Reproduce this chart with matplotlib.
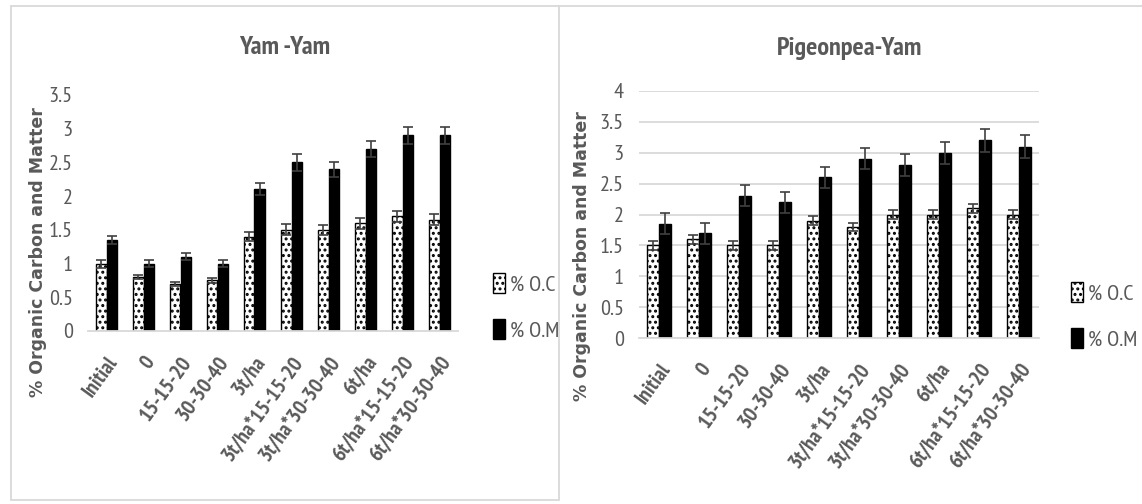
import numpy as np
import matplotlib
matplotlib.use('Agg')
import matplotlib.pyplot as plt
from matplotlib import font_manager
from matplotlib.lines import Line2D
from matplotlib.patches import Rectangle

_avail = {f.name for f in font_manager.fontManager.ttflist}
NARROW = 'DejaVu Sans'
for cand in ['PT Sans Narrow', 'Roboto Condensed', 'Fira Sans Condensed',
             'Archivo Narrow', 'Liberation Sans Narrow', 'Carlito']:
    if cand in _avail:
        NARROW = cand
        break

plt.rcParams['font.family'] = [NARROW, 'DejaVu Sans']
plt.rcParams['hatch.linewidth'] = 1.4

CATEGORIES = ['Initial', '0', '15-15-20', '30-30-40', '3t/ha', '3t/ha*15-15-20',
              '3t/ha*30-30-40', '6t/ha', '6t/ha*15-15-20', '6t/ha*30-30-40']

YY_OC = [1.0, 0.8, 0.7, 0.75, 1.4, 1.5, 1.5, 1.6, 1.7, 1.65]
YY_OC_ERR = [0.06, 0.03, 0.03, 0.04, 0.07, 0.08, 0.07, 0.08, 0.08, 0.08]
YY_OM = [1.35, 1.0, 1.1, 1.0, 2.1, 2.5, 2.4, 2.7, 2.9, 2.9]
YY_OM_ERR = [0.06, 0.05, 0.05, 0.05, 0.09, 0.12, 0.11, 0.12, 0.13, 0.13]

PY_OC = [1.5, 1.6, 1.5, 1.5, 1.9, 1.8, 2.0, 2.0, 2.1, 2.0]
PY_OC_ERR = [0.07, 0.07, 0.07, 0.07, 0.07, 0.07, 0.07, 0.07, 0.07, 0.07]
PY_OM = [1.85, 1.7, 2.3, 2.2, 2.6, 2.9, 2.8, 3.0, 3.2, 3.1]
PY_OM_ERR = [0.17, 0.17, 0.17, 0.17, 0.17, 0.17, 0.18, 0.18, 0.18, 0.18]

TEXT = '#595959'
GRID = '#d9d9d9'
ERR = '#404040'

W, H = 1142, 504
fig = plt.figure(figsize=(W / 100, H / 100), dpi=100, facecolor='white')

# panel frames: left box, shared top line running across the right panel
fig.patches.append(Rectangle((11 / W, 1 - 500 / H), 548 / W, 494 / H,
                             transform=fig.transFigure, fill=False,
                             edgecolor=GRID, lw=1.3))
fig.lines.append(Line2D([559 / W, 1.0], [1 - 6 / H, 1 - 6 / H],
                        transform=fig.transFigure, color=GRID, lw=1.3))


def draw_panel(rect, oc, oc_err, om, om_err, ymax, grid, title, title_xy,
               ylab_xy, leg_anchor):
    ax = fig.add_axes(rect)
    x = np.arange(len(CATEGORIES))
    bw = 0.29
    ax.bar(x - bw / 2, oc, bw, color='white', edgecolor='black', hatch='...',
           lw=1.0, label='% O.C', zorder=2)
    ax.bar(x + bw / 2, om, bw, color='black', edgecolor='black',
           lw=1.0, label='% O.M', zorder=2)
    ax.errorbar(x - bw / 2, oc, yerr=oc_err, fmt='none', ecolor=ERR,
                elinewidth=1.2, capsize=3.5, capthick=1.2, zorder=3)
    ax.errorbar(x + bw / 2, om, yerr=om_err, fmt='none', ecolor=ERR,
                elinewidth=1.2, capsize=3.5, capthick=1.2, zorder=3)
    ax.set_xlim(-0.5, len(CATEGORIES) - 0.5)
    ax.set_ylim(0, ymax)
    ticks = np.arange(0, ymax + 0.01, 0.5)
    ax.set_yticks(ticks)
    ax.set_yticklabels([f'{v:g}' for v in ticks])
    if grid:
        ax.grid(axis='y', color=GRID, lw=1.3, zorder=0)
        ax.set_axisbelow(True)
    for s in ['top', 'right', 'left']:
        ax.spines[s].set_visible(False)
    ax.spines['bottom'].set_color(GRID)
    ax.spines['bottom'].set_linewidth(1.3)
    ax.tick_params(axis='both', length=0, colors=TEXT, labelsize=16)
    ax.tick_params(axis='y', pad=11)
    ax.tick_params(axis='x', pad=16)
    ax.set_xticks(x)
    ax.set_xticklabels(CATEGORIES, rotation=54, ha='right',
                       rotation_mode='anchor', fontsize=15.5, color=TEXT,
                       fontweight='bold')
    fig.text(title_xy[0] / W, 1 - title_xy[1] / H, title, ha='center',
             va='center', fontsize=19, color=TEXT, fontweight='bold')
    fig.text(ylab_xy[0] / W, 1 - ylab_xy[1] / H, '% Organic Carbon and Matter',
             rotation=90, ha='center', va='center', fontsize=12.5,
             fontweight='bold', color=TEXT, family='DejaVu Sans')
    leg = ax.legend(loc='center left', bbox_to_anchor=leg_anchor,
                    bbox_transform=fig.transFigure, frameon=False,
                    fontsize=16, handlelength=0.55, handleheight=1.0,
                    handletextpad=0.2, labelspacing=1.1, borderpad=0)
    for t in leg.get_texts():
        t.set_color(TEXT)
    return ax


draw_panel([88 / W, 1 - 331 / H, 370 / W, 236 / H],
           YY_OC, YY_OC_ERR, YY_OM, YY_OM_ERR, 3.5, False,
           'Yam -Yam', (285, 47), (38, 252), (482 / W, 1 - 307 / H))
draw_panel([639 / W, 1 - 338 / H, 400 / W, 247 / H],
           PY_OC, PY_OC_ERR, PY_OM, PY_OM_ERR, 4.0, True,
           'Pigeonpea-Yam', (850, 48), (582, 256), (1060 / W, 1 - 316 / H))

fig.savefig('out.png', dpi=100, facecolor='white')
